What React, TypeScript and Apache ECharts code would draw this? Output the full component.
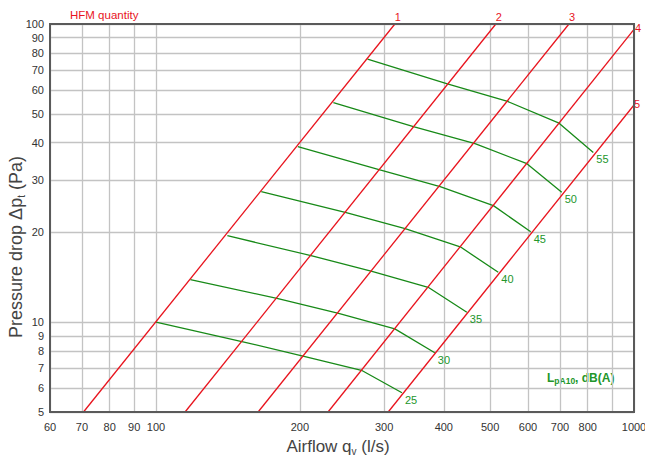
import React, { useEffect, useRef } from "react";
import * as echarts from "echarts";

// Axis ticks (real units)
const xGridValues = [60, 70, 80, 90, 100, 200, 300, 400, 500, 600, 700, 800, 900, 1000];
const xLabelValues = [60, 70, 80, 90, 100, 200, 300, 400, 500, 600, 700, 800, 1000];
const yGridValues = [5, 6, 7, 8, 9, 10, 20, 30, 40, 50, 60, 70, 80, 90, 100];
const yLabelValues = [5, 6, 7, 8, 9, 10, 20, 30, 40, 50, 60, 70, 80, 90, 100];

// HFM quantity lines: [airflow l/s, pressure Pa] end points
const hfmNames = ["1", "2", "3", "4", "5"];
const hfm1 = [[70.5, 5], [316, 100]];
const hfm2 = [[115, 5], [514, 100]];
const hfm3 = [[163.5, 5], [731, 100]];
const hfm4 = [[229, 5], [1000, 96]];
const hfm5 = [[306, 5], [1000, 53.5]];
const hfmLines = [hfm1, hfm2, hfm3, hfm4, hfm5];

// Sound level lines LpA10 dB(A)
const soundNames = ["25", "30", "35", "40", "45", "50", "55"];
const s25 = [[100, 10], [152, 8.6], [203, 7.7], [269, 6.9], [327, 5.8]];
const s30 = [[118, 13.9], [180, 12.0], [241, 10.7], [316, 9.5], [383, 7.9]];
const s35 = [[141, 19.5], [212, 16.7], [283, 14.8], [371, 13.1], [447, 10.8]];
const s40 = [[166, 27.4], [250, 23.3], [332, 20.6], [433, 17.9], [520, 14.7]];
const s45 = [[198, 38.8], [294, 32.4], [393, 28.5], [508, 24.6], [608, 20.1]];
const s50 = [[235, 54.5], [347, 45.2], [465, 39.7], [597, 34.0], [706, 27.3]];
const s55 = [[277, 76.2], [407, 63.0], [544, 55.0], [697, 46.5], [822, 37.1]];
const soundLines = [s25, s30, s35, s40, s45, s50, s55];

const RED = "#e8141e";
const GREEN = "#188a18";
const GREEN_TEXT = "#22962a";
const FONT = "'Liberation Sans', Arial, Helvetica, sans-serif";

const L = (v: number) => Math.log10(v);
const toLog = (pts: number[][]) => pts.map(([x, y]) => [L(x), L(y)]);
const fmt = (v: number) => String(Math.round(Math.pow(10, v)));

export default function App() {
  const ref = useRef<HTMLDivElement>(null);

  useEffect(() => {
    if (!ref.current) return;
    const chart = echarts.init(ref.current, null, { renderer: "svg" });

    const hfmLabelOffsets = [
      [0, -7],
      [0, -7],
      [0, -7],
      [1, -1],
      [0, -1],
    ];

    const series: any[] = [];
    hfmLines.forEach((pts, i) => {
      series.push({
        type: "line",
        name: "HFM " + hfmNames[i],
        data: toLog(pts),
        showSymbol: false,
        symbol: "none",
        silent: true,
        z: 3,
        clip: false,
        lineStyle: { color: RED, width: 1.3 },
        endLabel: {
          show: true,
          formatter: () => hfmNames[i],
          color: RED,
          fontSize: 11,
          fontFamily: FONT,
          distance: 0,
          offset: hfmLabelOffsets[i],
        },
      });
    });
    soundLines.forEach((pts, i) => {
      series.push({
        type: "line",
        name: soundNames[i] + " dB(A)",
        data: toLog(pts),
        showSymbol: false,
        symbol: "none",
        silent: true,
        z: 2,
        lineStyle: { color: GREEN, width: 1.3 },
        endLabel: {
          show: true,
          formatter: () => soundNames[i],
          color: GREEN_TEXT,
          fontSize: 11,
          fontFamily: FONT,
          distance: 3,
          offset: [0, 7],
        },
      });
    });

    chart.setOption({
      animation: false,
      grid: {
        left: 50,
        top: 24,
        right: 11,
        bottom: 45,
        outerBoundsMode: "none",
        containLabel: false,
        show: true,
        borderColor: "#5a5a5a",
        borderWidth: 2,
        z: 4,
      },
      xAxis: {
        type: "value",
        min: L(60),
        max: 3,
        axisLine: { show: true, lineStyle: { color: "#5a5a5a", width: 2 } },
        axisTick: { show: false, customValues: xGridValues.map(L) },
        axisLabel: {
          customValues: xLabelValues.map(L),
          formatter: fmt,
          color: "#333",
          fontSize: 11,
          fontFamily: FONT,
          margin: 9,
        },
        splitLine: { show: true, lineStyle: { color: "#c3c3c3", width: 1.3 } },
        name: "Airflow q{sub|v} (l/s)",
        nameLocation: "middle",
        nameGap: 24,
        nameTextStyle: {
          color: "#444",
          fontSize: 17,
          fontFamily: FONT,
          lineHeight: 20,
          padding: [0, 8, 0, 0],
          rich: {
            sub: { fontSize: 10, color: "#444", fontFamily: FONT, verticalAlign: "bottom", lineHeight: 17 },
          },
        },
      },
      yAxis: {
        type: "value",
        min: L(5),
        max: 2,
        axisLine: { show: true, lineStyle: { color: "#5a5a5a", width: 2 } },
        axisTick: { show: false, customValues: yGridValues.map(L) },
        axisLabel: {
          customValues: yLabelValues.map(L),
          formatter: fmt,
          color: "#333",
          fontSize: 11,
          fontFamily: FONT,
          margin: 6,
        },
        splitLine: { show: true, lineStyle: { color: "#c3c3c3", width: 1.3 } },
      },
      graphic: [
        {
          type: "text",
          x: 70,
          y: 15,
          silent: true,
          style: {
            text: "HFM quantity",
            fill: RED,
            fontSize: 11.5,
            fontFamily: FONT,
            verticalAlign: "middle",
            align: "left",
          },
        },
        {
          type: "text",
          x: 16,
          y: 247,
          rotation: Math.PI / 2,
          silent: true,
          style: {
            text: "Pressure drop Δp{sub|t} (Pa)",
            fill: "#444",
            fontSize: 18,
            fontFamily: FONT,
            lineHeight: 20,
            align: "center",
            verticalAlign: "middle",
            rich: {
              sub: { fontSize: 10, fill: "#444", fontFamily: FONT, verticalAlign: "bottom", lineHeight: 17 },
            },
          },
        },
        {
          type: "text",
          x: 547,
          y: 378,
          silent: true,
          style: {
            text: "L{sub|pA10}, dB(A)",
            fill: GREEN_TEXT,
            fontSize: 12,
            fontWeight: "bold",
            fontFamily: FONT,
            lineHeight: 14,
            align: "left",
            verticalAlign: "middle",
            rich: {
              sub: { fontSize: 8.5, fontWeight: "bold", fill: GREEN_TEXT, fontFamily: FONT, verticalAlign: "bottom", lineHeight: 12 },
            },
          },
        },
      ],
      series,
    });

    return () => chart.dispose();
  }, []);

  return (
    <div
      ref={ref}
      style={{ position: "fixed", left: 0, top: 0, width: 645, height: 457, background: "#fff" }}
    />
  );
}
